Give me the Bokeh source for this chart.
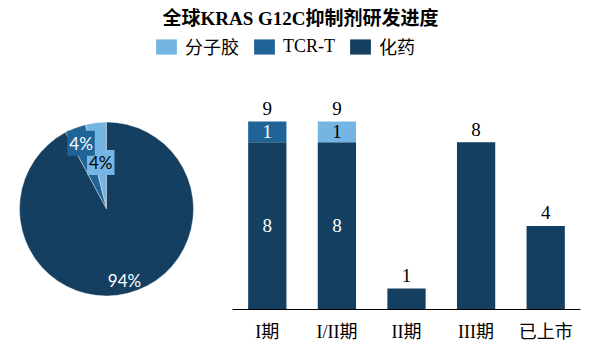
from bokeh.plotting import figure
from bokeh.layouts import column, row
from bokeh.models import ColumnDataSource, Legend, LegendItem, Range1d, FactorRange
from bokeh.core.properties import value
from bokeh.embed import file_html
from bokeh.resources import INLINE
import math

# ---- data ----
title_text = "全球KRAS G12C抑制剂研发进度"
series = ["分子胶", "TCR-T", "化药"]
series_colors = ["#75B5E3", "#1F6397", "#143F61"]

pie_shares = [4, 4, 94]
pie_labels = ["4%", "4%", "94%"]

stages = ["I期", "I/II期", "II期", "III期", "已上市"]
chem = [8, 8, 1, 8, 4]      # 化药
tcr = [1, 0, 0, 0, 0]       # TCR-T
glue = [0, 1, 0, 0, 0]      # 分子胶

SERIF = "'Liberation Serif', 'Noto Sans CJK SC'"
SANS = "Lato"

# ---- header: title + legend ----
hdr = figure(width=600, height=70, toolbar_location=None, output_backend="svg",
             x_range=Range1d(0, 10), y_range=Range1d(0, 10), min_border=0,
             min_border_top=5, outline_line_color=None)
hdr.axis.visible = False
hdr.grid.visible = False
hdr.title.text = title_text
hdr.title.align = "center"
hdr.title.text_font = SERIF
hdr.title.text_font_size = "19px"
hdr.title.text_font_style = "bold"
hdr.title.text_color = "black"

items = []
for s, c in zip(series, series_colors):
    r = hdr.vbar(x=[50], bottom=[50], top=[51], width=1, fill_color=c, line_color=None)
    items.append(LegendItem(label=s, renderers=[r]))
leg = Legend(items=items, orientation="horizontal", location=(153, 11),
             glyph_width=26, glyph_height=19, label_standoff=6, spacing=12,
             padding=0, margin=0, border_line_color=None, background_fill_alpha=0,
             label_text_font=SERIF, label_text_font_size="18px",
             label_text_color="black", label_height=19)
hdr.add_layout(leg, "center")

# ---- shared frame borders for lower row ----
TOP_B, BOT_B = 30, 43
ROW_H = 282
FRAME_H = ROW_H - TOP_B - BOT_B

# ---- pie ----
PW = 215
CX, CY, RPX = 106, 108.5, 87   # centre in frame px (from left / from top), radius px
pie = figure(width=PW, height=ROW_H, toolbar_location=None, output_backend="svg",
             x_range=Range1d(-CX / RPX, (PW - CX) / RPX),
             y_range=Range1d(-(FRAME_H - CY) / RPX, CY / RPX),
             min_border_left=0, min_border_right=0, min_border_top=TOP_B,
             min_border_bottom=BOT_B, outline_line_color=None)
pie.axis.visible = False
pie.grid.visible = False

total = sum(pie_shares)
starts, ends, mids = [], [], []
a = math.pi / 2
for v in pie_shares:
    span = 2 * math.pi * v / total
    starts.append(a)
    ends.append(a + span)
    mids.append(a + span / 2)
    a += span
pie_src = ColumnDataSource(dict(start=starts, end=ends, color=series_colors))
pie.wedge(x=0, y=0, radius=1, start_angle="start", end_angle="end",
          fill_color="color", line_color="white", line_width=0.4, source=pie_src)

label_r = [0.54, 0.81, 0.85]
lab_x = [r * math.cos(m) for r, m in zip(label_r, mids)]
lab_y = [r * math.sin(m) for r, m in zip(label_r, mids)]
lab_tc = ["black", "white", "white"]
lab_bg = [series_colors[0], series_colors[1], None]
for i in range(3):
    kw = {}
    if lab_bg[i] is not None:
        kw = dict(background_fill_color=lab_bg[i], padding=2)
    pie.text(x=[lab_x[i]], y=[lab_y[i]], text=[pie_labels[i]], text_align="center",
             text_baseline="middle", text_color=lab_tc[i], text_font=value(SANS),
             text_font_size="17px", **kw)

# ---- bars ----
bars = figure(width=600 - PW, height=ROW_H, toolbar_location=None, output_backend="svg",
              x_range=FactorRange(*stages), y_range=Range1d(0, 10),
              min_border_left=17, min_border_right=20, min_border_top=TOP_B,
              min_border_bottom=BOT_B, outline_line_color=None)
src = ColumnDataSource(dict(stage=stages, chem=chem, tcr=tcr, glue=glue))
bars.vbar_stack(["chem", "tcr", "glue"], x="stage", width=0.55,
                color=[series_colors[2], series_colors[1], series_colors[0]],
                line_color=None, source=src)
bars.grid.visible = False
bars.yaxis.visible = False
bars.xaxis.axis_line_color = "black"
bars.xaxis.axis_line_width = 1
bars.xaxis.major_tick_line_color = None
bars.xaxis.minor_tick_line_color = None
bars.xaxis.major_label_standoff = 6
bars.xaxis.major_label_text_font = SERIF
bars.xaxis.major_label_text_font_size = "18px"
bars.xaxis.major_label_text_color = "black"

totals = [a + b + c for a, b, c in zip(chem, tcr, glue)]
bars.text(x=stages, y=totals, text=[str(t) for t in totals], text_align="center",
          text_baseline="middle", y_offset=-13, text_color="black",
          text_font=value("Liberation Serif"), text_font_size="19px")

# inner segment labels for multi-segment bars
ix, iy, it, ic = [], [], [], []
for i, st in enumerate(stages):
    segs = [(chem[i], "white"), (tcr[i], "white"), (glue[i], "black")]
    nz = [s for s in segs if s[0] > 0]
    if len(nz) > 1:
        base = 0
        for v, tc in segs:
            if v > 0:
                ix.append(st)
                iy.append(base + v / 2)
                it.append(str(v))
                ic.append(tc)
            base += v
bars.text(x=ix, y=iy, text=it, text_color=ic, text_align="center",
          text_baseline="middle", text_font=value("Liberation Serif"),
          text_font_size="19px")

layout = column(hdr, row(pie, bars, spacing=0), spacing=0)
open("out.html", "w").write(file_html(layout, INLINE))
